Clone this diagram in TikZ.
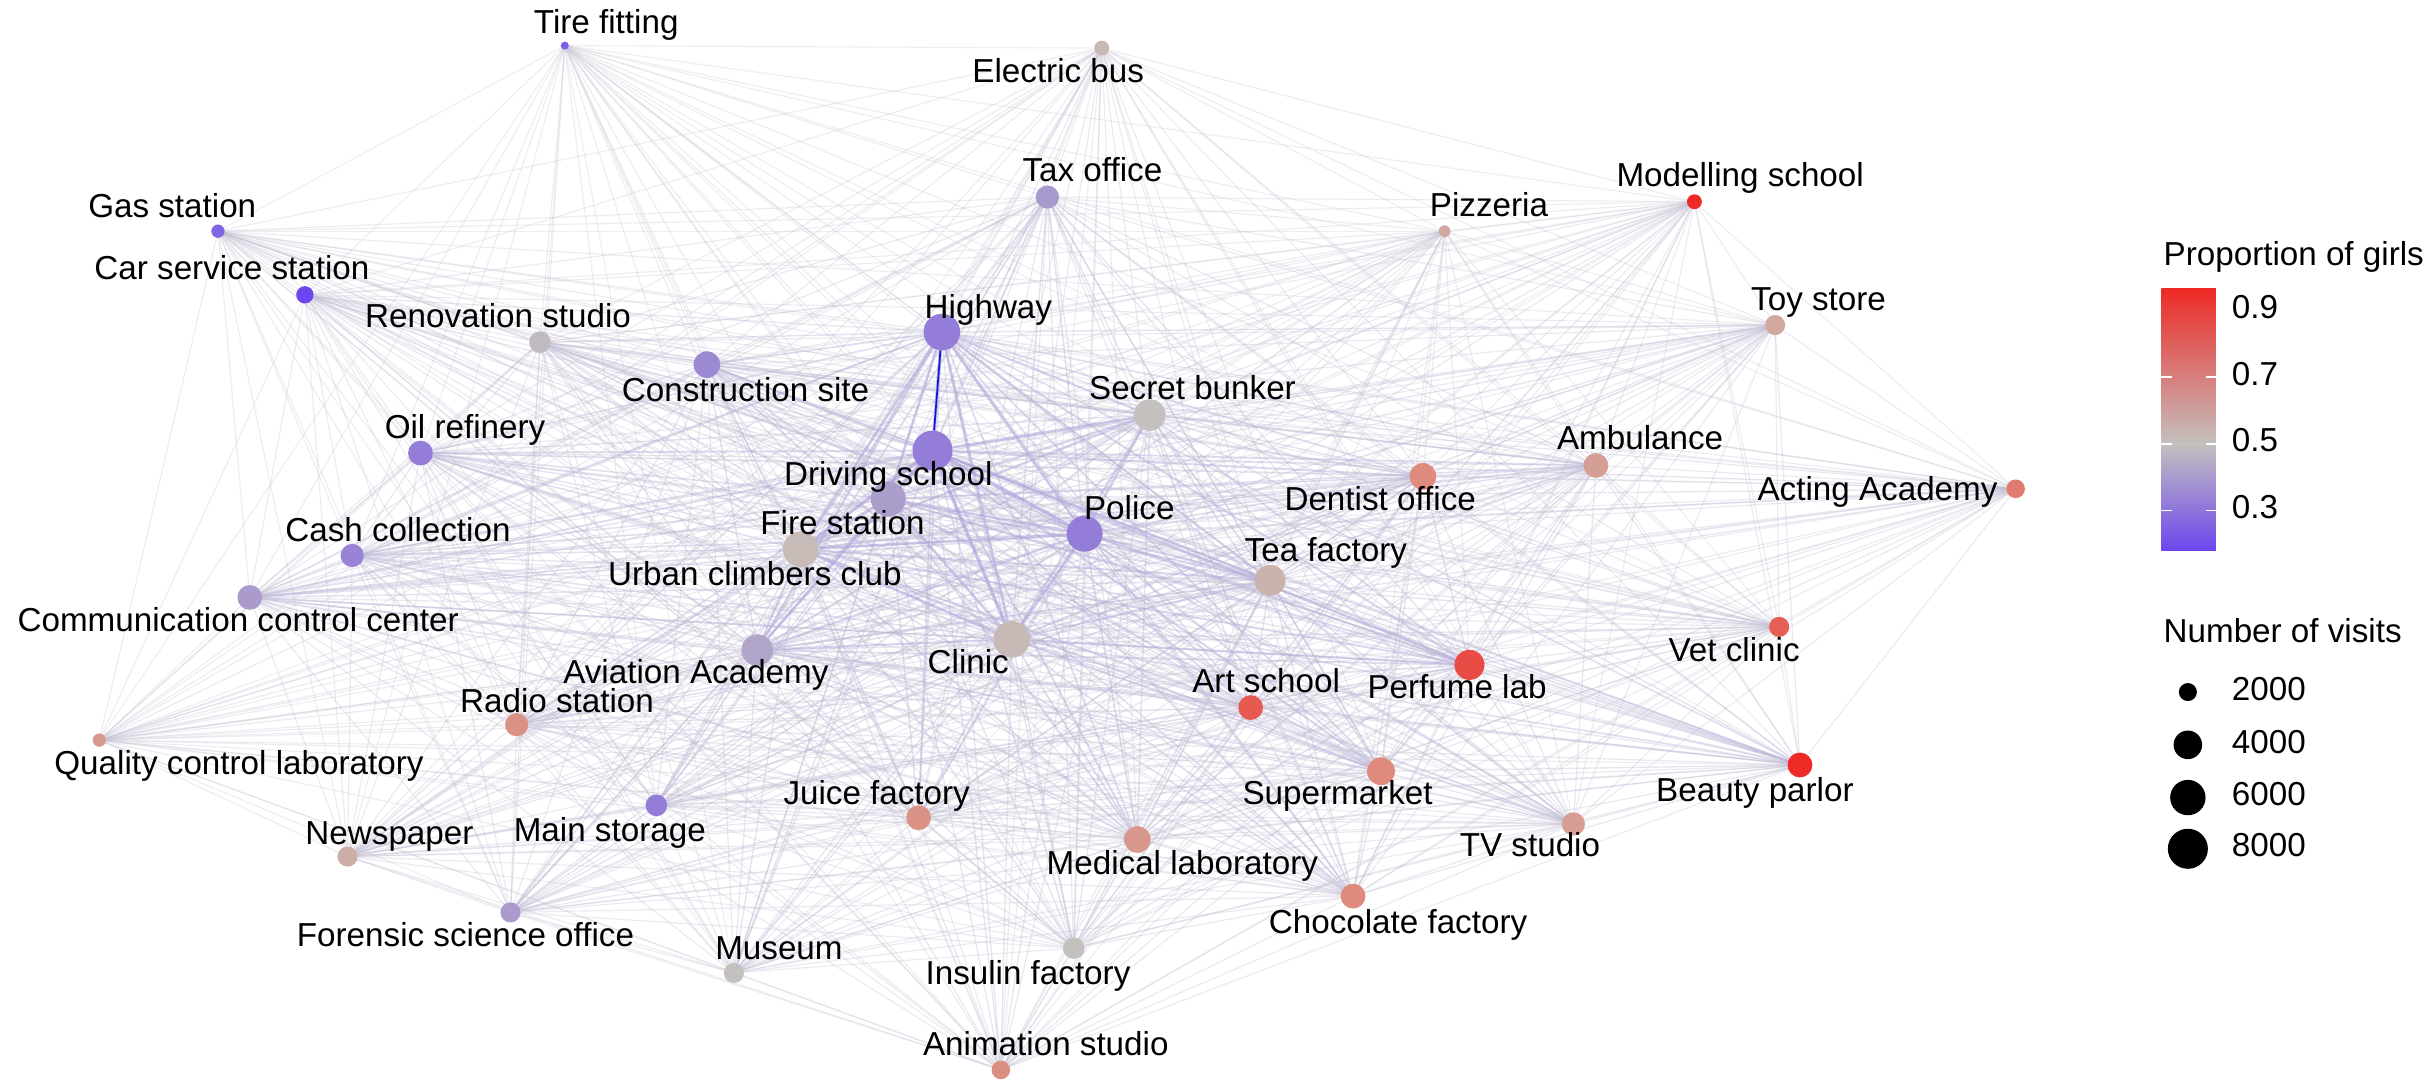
\documentclass[tikz,border=0pt]{standalone}
\usepackage{fontspec}
\setmainfont{Liberation Sans}
\pgfdeclarelayer{edges}
\pgfsetlayers{edges,main}
\definecolor{lo}{RGB}{108,70,238}
\definecolor{mi}{RGB}{196,192,190}
\definecolor{pk}{RGB}{222,138,124}
\definecolor{hi}{RGB}{238,42,38}
\definecolor{egray}{RGB}{200,198,212}
\definecolor{elav}{RGB}{150,132,222}
\definecolor{eblue}{RGB}{20,20,225}
\tikzset{
  dot/.style={circle, inner sep=0pt, outer sep=0pt, draw=none},
  lbl/.style={font=\fontsize{10.7}{12}\selectfont, inner sep=0pt, anchor=mid, text=black},
  lgd/.style={font=\fontsize{10.7}{12}\selectfont, inner sep=0pt, anchor=mid west, text=black},
  tickmark/.style={white, line width=0.6pt},
}
\newcommand\mknode[5]{%
  \node[dot, minimum size=#4pt, fill=#5] (#1) at (#2,#3) {};
  \expandafter\gdef\csname rad@#1\endcsname{#4}}
\def\allnodes{tire,ebus,tax,gas,carserv,model,pizza,renov,hwy,constr,toy,bunker,oil,drive,amb,dentist,acting,fire,police,cash,urban,tea,comm,clinic,avia,vet,perfume,art,radio,qcl,beauty,super,juice,mainst,tv,news,medlab,choc,forensic,museum,insulin,anim}
\begin{document}
\begin{tikzpicture}[x=0.5pt,y=-0.5pt]
\useasboundingbox (0,0) rectangle (1568,697);
% nodes
\mknode{tire}{364}{29.4}{2.6}{lo!80!mi}
\mknode{ebus}{710}{31}{4.8}{pk!15!mi}
\mknode{tax}{675}{127}{7.5}{lo!32!mi}
\mknode{gas}{140.5}{149}{4.3}{lo!75!mi}
\mknode{carserv}{196.5}{190}{5.6}{lo}
\mknode{model}{1092}{130}{4.8}{hi}
\mknode{pizza}{931}{149}{3.8}{pk!45!mi}
\mknode{renov}{348}{220.5}{7}{lo!5!mi}
\mknode{hwy}{607}{214}{11.8}{lo!55!mi}
\mknode{constr}{455.6}{235}{8.6}{lo!45!mi}
\mknode{toy}{1144}{209.5}{6.5}{pk!45!mi}
\mknode{bunker}{741}{267.5}{10.2}{mi}
\mknode{oil}{271}{292}{8}{lo!55!mi}
\mknode{drive}{601}{290.4}{12.9}{lo!55!mi}
\mknode{amb}{1028.5}{300}{8}{pk!60!mi}
\mknode{dentist}{917}{307}{8.6}{pk}
\mknode{acting}{1299}{315}{6}{hi!15!pk}
\mknode{fire}{572.5}{321.6}{11.3}{lo!28!mi}
\mknode{police}{699}{344}{11.6}{lo!55!mi}
\mknode{cash}{227}{358}{7.5}{lo!50!mi}
\mknode{urban}{516}{354}{11.5}{pk!10!mi}
\mknode{tea}{818.5}{374}{10}{pk!25!mi}
\mknode{comm}{161}{385}{8}{lo!30!mi}
\mknode{clinic}{652}{412}{11.8}{pk!12!mi}
\mknode{avia}{488}{419}{10.2}{lo!22!mi}
\mknode{vet}{1146.6}{404}{6.5}{hi!45!pk}
\mknode{perfume}{947}{428.5}{9.7}{hi!65!pk}
\mknode{art}{806}{456}{8}{hi!50!pk}
\mknode{radio}{333}{467}{7.5}{pk!85!mi}
\mknode{qcl}{64}{477}{4.3}{pk!70!mi}
\mknode{beauty}{1160}{493}{8}{hi}
\mknode{super}{890}{497}{9}{pk}
\mknode{juice}{592}{527}{8}{pk!85!mi}
\mknode{mainst}{423}{519}{7}{lo!55!mi}
\mknode{tv}{1014}{531}{7.5}{pk!65!mi}
\mknode{news}{224}{552}{6.5}{pk!35!mi}
\mknode{medlab}{733}{541}{8.6}{pk!75!mi}
\mknode{choc}{872}{577.5}{8}{pk}
\mknode{forensic}{329}{588}{6.5}{lo!30!mi}
\mknode{museum}{473}{627}{6.5}{mi}
\mknode{insulin}{692}{611}{7}{mi}
\mknode{anim}{645}{689.5}{6}{pk!90!mi}
% edges
\begin{pgfonlayer}{edges}
\fill[white] (0,0) rectangle (1568,697);
\foreach \a [count=\i] in \allnodes {
  \foreach \b [count=\j] in \allnodes {
    \ifnum\j>\i
      \pgfmathsetmacro\w{\csname rad@\a\endcsname*\csname rad@\b\endcsname/152}
      \pgfmathsetmacro\lw{0.35+0.7*\w*\w*\w}
      \pgfmathsetmacro\op{0.3+0.3*\w*\w}
      \pgfmathtruncatemacro\mx{min(100,80*\w*\w)}
      \draw[line width=\lw pt, draw=elav!\mx!egray, draw opacity=\op] (\a) -- (\b);
    \fi
  }
}
\draw[draw=eblue, line width=0.55pt] (hwy) -- (drive);
\end{pgfonlayer}
% labels
\node[lbl] (l-tire) at (390.7,16) {Tire fitting};
\node[lbl] (l-ebus) at (682,48) {Electric bus};
\node[lbl] (l-tax) at (704,112) {Tax office};
\node[lbl] (l-gas) at (111,135) {Gas station};
\node[lbl] (l-carserv) at (149.5,175) {Car service station};
\node[lbl] (l-model) at (1121.5,115) {Modelling school};
\node[lbl] (l-pizza) at (959.6,134) {Pizzeria};
\node[lbl] (l-renov) at (321,206) {Renovation studio};
\node[lbl] (l-hwy) at (637,200) {Highway};
\node[lbl] (l-constr) at (480.5,253.5) {Construction site};
\node[lbl] (l-toy) at (1172,194.5) {Toy store};
\node[lbl] (l-bunker) at (768.5,252.4) {Secret bunker};
\node[lbl] (l-oil) at (299.7,277) {Oil refinery};
\node[lbl] (l-drive) at (572.5,307.5) {Driving school};
\node[lbl] (l-amb) at (1057,284.7) {Ambulance};
\node[lbl] (l-dentist) at (889.5,324) {Dentist office};
\node[lbl] (l-acting) at (1210,317) {Acting Academy};
\node[lbl] (l-fire) at (543,339) {Fire station};
\node[lbl] (l-police) at (727.8,329.7) {Police};
\node[lbl] (l-cash) at (256.5,344) {Cash collection};
\node[lbl] (l-urban) at (486.5,372) {Urban climbers club};
\node[lbl] (l-tea) at (854.5,356.5) {Tea factory};
\node[lbl] (l-comm) at (153.5,402) {Communication control center};
\node[lbl] (l-clinic) at (624,428.5) {Clinic};
\node[lbl] (l-avia) at (448.5,435) {Aviation Academy};
\node[lbl] (l-vet) at (1117.6,421) {Vet clinic};
\node[lbl] (l-perfume) at (939,445) {Perfume lab};
\node[lbl] (l-art) at (816,441) {Art school};
\node[lbl] (l-radio) at (359,454) {Radio station};
\node[lbl] (l-qcl) at (154,494) {Quality control laboratory};
\node[lbl] (l-beauty) at (1131,511) {Beauty parlor};
\node[lbl] (l-super) at (862,513.5) {Supermarket};
\node[lbl] (l-juice) at (565,513) {Juice factory};
\node[lbl] (l-mainst) at (393,537) {Main storage};
\node[lbl] (l-tv) at (986,547) {TV studio};
\node[lbl] (l-news) at (251,539) {Newspaper};
\node[lbl] (l-medlab) at (762,558.5) {Medical laboratory};
\node[lbl] (l-choc) at (901,596) {Chocolate factory};
\node[lbl] (l-forensic) at (300,605) {Forensic science office};
\node[lbl] (l-museum) at (502,613) {Museum};
\node[lbl] (l-insulin) at (662.5,629) {Insulin factory};
\node[lbl] (l-anim) at (674,675) {Animation studio};
% legend: colour
\node[lgd] (lg-title) at (1394,166) {Proportion of girls};
\shade[top color=hi, bottom color=mi] (1393,186) rectangle (1428,286);
\shade[top color=mi, bottom color=lo] (1393,286) rectangle (1428,355);
\foreach \ty in {243,286,329} {
  \draw[tickmark] (1393,\ty) -- (1399.5,\ty);
  \draw[tickmark] (1421.5,\ty) -- (1428,\ty);
}
\node[lgd] (lg-t9) at (1438,200) {0.9};
\node[lgd] (lg-t7) at (1438,243) {0.7};
\node[lgd] (lg-t5) at (1438,286) {0.5};
\node[lgd] (lg-t3) at (1438,329) {0.3};
% legend: size
\node[lgd] (ls-title) at (1394,409) {Number of visits};
\node[dot, fill=black, minimum size=5.8pt] (ls-d1) at (1410,446) {};
\node[dot, fill=black, minimum size=9.2pt] (ls-d2) at (1410,480) {};
\node[dot, fill=black, minimum size=11.4pt] (ls-d3) at (1410,514) {};
\node[dot, fill=black, minimum size=12.9pt] (ls-d4) at (1410,547) {};
\node[lgd] (ls-l1) at (1438,446) {2000};
\node[lgd] (ls-l2) at (1438,480) {4000};
\node[lgd] (ls-l3) at (1438,514) {6000};
\node[lgd] (ls-l4) at (1438,547) {8000};
\end{tikzpicture}
\end{document}
